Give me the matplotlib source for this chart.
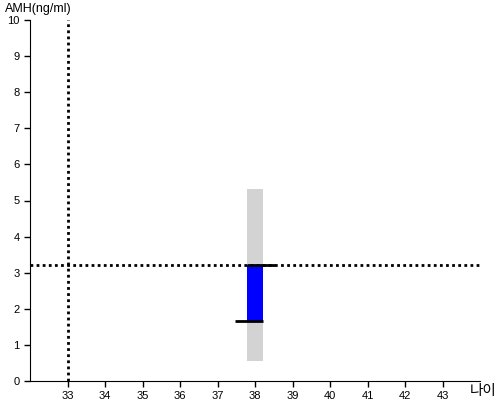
import matplotlib

matplotlib.use("Agg")
import matplotlib.pyplot as plt

plt.rcParams["font.family"] = ["Liberation Sans", "Noto Sans CJK KR", "DejaVu Sans"]

# values
age = 38
range_low, range_high = 0.55, 5.32      # gray reference range
amh_low, amh_high = 1.66, 3.2           # blue measured interval
ref_age = 33
ref_amh = 3.2
x_ticks = list(range(33, 44))
y_ticks = list(range(0, 11))

fig = plt.figure(figsize=(5, 4), dpi=100)
ax = fig.add_axes([0.06, 0.0475, 0.9, 0.9025])

bw = 0.43
ax.bar(age, range_high - range_low, bottom=range_low, width=bw,
       color="#d3d3d3", zorder=1)
ax.bar(age, amh_high - amh_low, bottom=amh_low, width=bw,
       color="#0000ff", zorder=2)

ax.axvline(ref_age, color="black", linestyle=(0, (1, 1.2)), linewidth=2, zorder=3)
ax.axhline(ref_amh, color="black", linestyle=(0, (1, 1.2)), linewidth=2, zorder=3)

# cap lines at the ends of the blue interval
cap = 0.75
ax.plot([age - bw / 2, age - bw / 2 + cap], [amh_high, amh_high],
        color="black", linewidth=2, zorder=4, solid_capstyle="butt")
ax.plot([age + bw / 2 - cap, age + bw / 2], [amh_low, amh_low],
        color="black", linewidth=2, zorder=4, solid_capstyle="butt")

ax.set_xlim(32, 44)
ax.set_ylim(0, 10)
ax.set_xticks(x_ticks)
ax.set_yticks(y_ticks)
ax.tick_params(labelsize=8, length=4, width=1, colors="black")
ax.spines["top"].set_visible(False)
ax.spines["right"].set_visible(False)

fig.text(0.01, 0.992, "AMH(ng/ml)", fontsize=9, va="top", ha="left")
fig.text(0.993, 0.006, "나이", fontsize=10.5, va="bottom", ha="right")

fig.savefig("out.png", dpi=100)
plt.close(fig)
